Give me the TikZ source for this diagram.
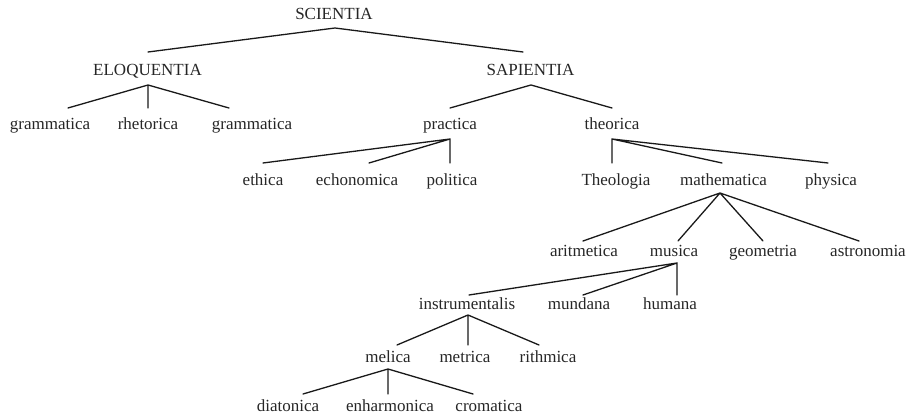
\documentclass[tikz,border=0pt]{standalone}
\usepackage{fontspec}
\setmainfont{Liberation Serif}
\begin{document}
\begin{tikzpicture}[x=1pt,y=-1pt,
  lbl/.style={inner sep=0pt, anchor=base, font=\fontsize{17}{20}\selectfont, text=black!85},
  branch/.style={line width=1.3pt, line cap=round, black!90}]
\useasboundingbox (0,0) rectangle (911,414);
% ---- nodes ----
\node[lbl] (SCI) at (334,20) {SCIENTIA};
\node[lbl] (ELO) at (147.5,76) {ELOQUENTIA};
\node[lbl] (SAP) at (530.5,76) {SAPIENTIA};
\node[lbl] (gr1) at (50,130) {grammatica};
\node[lbl] (rh)  at (148,130) {rhetorica};
\node[lbl] (gr2) at (252,130) {grammatica};
\node[lbl] (pra) at (450,130) {practica};
\node[lbl] (the) at (612,130) {theorica};
\node[lbl] (eth) at (263,186) {ethica};
\node[lbl] (ech) at (357,186) {echonomica};
\node[lbl] (pol) at (452,186) {politica};
\node[lbl] (theo) at (616,186) {Theologia};
\node[lbl] (mat) at (723.5,186) {mathematica};
\node[lbl] (phy) at (831,186) {physica};
\node[lbl] (ari) at (584,257) {aritmetica};
\node[lbl] (mus) at (674,257) {musica};
\node[lbl] (geo) at (763,257) {geometria};
\node[lbl] (ast) at (868,257) {astronomia};
\node[lbl] (ins) at (467,310) {instrumentalis};
\node[lbl] (mun) at (579,310) {mundana};
\node[lbl] (hum) at (670,310) {humana};
\node[lbl] (mel) at (388,362) {melica};
\node[lbl] (met) at (465,362) {metrica};
\node[lbl] (rit) at (548,362) {rithmica};
\node[lbl] (dia) at (288,411) {diatonica};
\node[lbl] (enh) at (390,411) {enharmonica};
\node[lbl] (cro) at (489,411) {cromatica};
% ---- connector points (apex under parent, end above child) ----
\coordinate (SCI-s) at (335,28);
\coordinate (ELO-n) at (148,52);
\coordinate (SAP-n) at (523,52);
\coordinate (ELO-s) at (148,85);
\coordinate (gr1-n) at (68,108);
\coordinate (rh-n)  at (148,108);
\coordinate (gr2-n) at (229,108);
\coordinate (SAP-s) at (531,85);
\coordinate (pra-n) at (450,108);
\coordinate (the-n) at (612,108);
\coordinate (pra-s) at (450,139);
\coordinate (eth-n) at (263,163);
\coordinate (ech-n) at (369,163);
\coordinate (pol-n) at (450,163);
\coordinate (the-s) at (612,139);
\coordinate (theo-n) at (612,163);
\coordinate (mat-n) at (722,163);
\coordinate (phy-n) at (828,163);
\coordinate (mat-s) at (720,193);
\coordinate (ari-n) at (583,241);
\coordinate (mus-n) at (678,241);
\coordinate (geo-n) at (763,241);
\coordinate (ast-n) at (859,241);
\coordinate (mus-s) at (677,263);
\coordinate (ins-n) at (469,295);
\coordinate (mun-n) at (583,295);
\coordinate (hum-n) at (677,295);
\coordinate (ins-s) at (468,315);
\coordinate (mel-n) at (397,345);
\coordinate (met-n) at (468,345);
\coordinate (rit-n) at (539,345);
\coordinate (mel-s) at (388,369);
\coordinate (dia-n) at (303,394);
\coordinate (enh-n) at (388,394);
\coordinate (cro-n) at (473,394);
% ---- connectors ----
\draw[branch] (ELO-n) -- (SCI-s) -- (SAP-n);
\draw[branch] (gr1-n) -- (ELO-s) -- (gr2-n) (ELO-s) -- (rh-n);
\draw[branch] (pra-n) -- (SAP-s) -- (the-n);
\draw[branch] (eth-n) -- (pra-s) -- (pol-n) (pra-s) -- (ech-n);
\draw[branch] (theo-n) -- (the-s) -- (phy-n) (the-s) -- (mat-n);
\draw[branch] (ari-n) -- (mat-s) -- (ast-n) (mat-s) -- (mus-n) (mat-s) -- (geo-n);
\draw[branch] (ins-n) -- (mus-s) -- (hum-n) (mus-s) -- (mun-n);
\draw[branch] (mel-n) -- (ins-s) -- (rit-n) (ins-s) -- (met-n);
\draw[branch] (dia-n) -- (mel-s) -- (cro-n) (mel-s) -- (enh-n);
\end{tikzpicture}
\end{document}
